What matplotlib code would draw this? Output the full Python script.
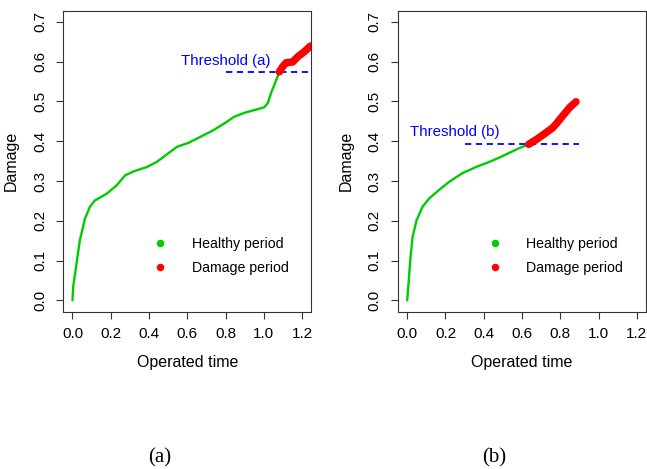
import matplotlib.pyplot as plt
from matplotlib.lines import Line2D

plt.rcParams['font.family'] = ['Liberation Sans', 'DejaVu Sans']

# damage curve (a): healthy part, then damage part after the threshold
healthy_a_t = [0.0, 0.0035, 0.021, 0.0385, 0.065, 0.091, 0.117, 0.179, 0.231, 0.275,
               0.319, 0.389, 0.441, 0.494, 0.547, 0.608, 0.669, 0.731, 0.792, 0.844,
               0.897, 0.950, 1.002, 1.020, 1.037, 1.058, 1.081]
healthy_a_d = [0.0, 0.034, 0.092, 0.151, 0.205, 0.235, 0.251, 0.268, 0.289, 0.314,
               0.324, 0.335, 0.348, 0.367, 0.386, 0.396, 0.411, 0.426, 0.444, 0.461,
               0.471, 0.478, 0.485, 0.495, 0.520, 0.545, 0.574]
damage_a_t = [1.081, 1.098, 1.116, 1.151, 1.177, 1.212, 1.244]
damage_a_d = [0.574, 0.587, 0.597, 0.599, 0.612, 0.625, 0.639]

# damage curve (b)
healthy_b_t = [0.0, 0.007, 0.016, 0.028, 0.049, 0.080, 0.115, 0.168, 0.220, 0.290,
               0.360, 0.430, 0.483, 0.535, 0.588, 0.635]
healthy_b_d = [0.0, 0.042, 0.101, 0.159, 0.201, 0.235, 0.256, 0.278, 0.298, 0.320,
               0.335, 0.348, 0.359, 0.371, 0.383, 0.392]
damage_b_t = [0.635, 0.675, 0.719, 0.759, 0.780, 0.815, 0.850, 0.882]
damage_b_d = [0.392, 0.404, 0.419, 0.433, 0.444, 0.465, 0.485, 0.499]

threshold_a = 0.573
threshold_b = 0.392

xticks = [0.0, 0.2, 0.4, 0.6, 0.8, 1.0, 1.2]
yticks = [0.0, 0.1, 0.2, 0.3, 0.4, 0.5, 0.6, 0.7]

W, H = 647, 469
fig = plt.figure(figsize=(W / 100, H / 100), dpi=100)


def panel(left_px, ht, hd, dt, dd, thr, thr_x, label, label_xy, caption):
    ax = fig.add_axes([left_px / W, (H - 311.5) / H, 248 / W, 300.9 / H])
    ax.plot(ht, hd, color='#00cc00', lw=1.7, solid_capstyle='round', zorder=2)
    ax.plot(dt, dd, color='#ff0000', lw=5.4, solid_capstyle='round', zorder=3)
    ax.plot(thr_x, [thr, thr], color='#0000ff', lw=1.3, dashes=(3.5, 2.5), zorder=1)
    ax.text(label_xy[0], label_xy[1], label, color='#0000ff', fontsize=10.8,
            ha='center', va='center')

    ax.set_xlim(-0.048, 1.248)
    ax.set_ylim(-0.028, 0.728)
    ax.set_xticks(xticks)
    ax.set_yticks(yticks)
    ax.set_xticklabels(['%.1f' % v for v in xticks])
    ax.set_yticklabels(['%.1f' % v for v in yticks], rotation=90, va='center')
    ax.tick_params(axis='both', length=4.8, width=0.8, color='#333333',
                   labelsize=11, pad=6)
    ax.tick_params(axis='y', pad=7)
    for s in ax.spines.values():
        s.set_color('#333333')
        s.set_linewidth(0.8)

    ax.set_xlabel('Operated time', fontsize=11.5)
    ax.xaxis.set_label_coords(0.5, -0.145)
    ax.set_ylabel('Damage', fontsize=11.5)
    ax.yaxis.set_label_coords(-0.178, 0.5)

    handles = [
        Line2D([], [], ls='none', marker='o', ms=4.4, color='#00cc00'),
        Line2D([], [], ls='none', marker='o', ms=4.4, color='#ff0000'),
    ]
    ax.legend(handles, ['Healthy period', 'Damage period'], frameon=False,
              fontsize=10.2, loc='upper left',
              bbox_to_anchor=((left_px + 83) / W, (H - 230) / H),
              bbox_transform=fig.transFigure, borderpad=0,
              handlelength=1.0, handletextpad=1.7, labelspacing=0.72)

    fig.text((left_px + 96) / W, (H - 458) / H, caption, family='Liberation Serif',
             fontsize=15, ha='center', va='center')
    return ax


panel(63.3, healthy_a_t, healthy_a_d, damage_a_t, damage_a_d,
      threshold_a, [0.8, 1.3], 'Threshold (a)', (0.8, 0.601), '(a)')
panel(398, healthy_b_t, healthy_b_d, damage_b_t, damage_b_d,
      threshold_b, [0.3, 0.9], 'Threshold (b)', (0.25, 0.4225), '(b)')

fig.savefig('out.png', dpi=100)
